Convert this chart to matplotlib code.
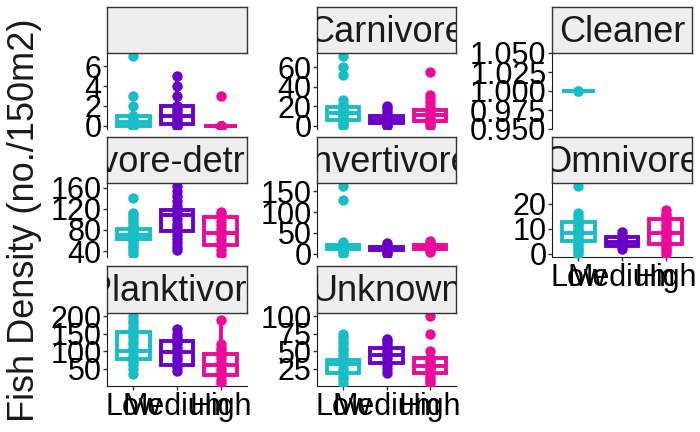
import numpy as np
import matplotlib
matplotlib.use("Agg")
import matplotlib.pyplot as plt

plt.rcParams['font.family'] = ['Liberation Sans', 'DejaVu Sans']

groups = ["Low", "Medium", "High"]
colors = ["#19BDC6", "#6A00C8", "#EC0A9A"]

# box stats per group: [whislo, q1, med, q3, whishi]
blank_box = [[0, 0, 0.33, 1, 2], [0, 0.2, 1, 2, 5], [0, 0, 0, 0, 0]]
blank_pts = [[0, 0, 0, 0, 0, 0.33, 0.33, 0.67, 1, 1, 2, 3, 7],
             [0, 0, 0.33, 0.67, 1, 1, 1.33, 1.67, 2, 2, 3, 4, 5],
             [0, 0, 0, 0, 0, 0, 0, 0, 3]]

carn_box = [[0, 6, 13, 19, 26], [0, 3, 6, 10, 20], [0, 5, 11, 16, 31]]
carn_pts = [[0, 2, 4, 6, 8, 10, 12, 14, 16, 18, 20, 22, 26, 52, 60, 71],
            [0, 1, 2, 3, 5, 6, 7, 8, 10, 12, 15, 18, 20],
            [0, 2, 4, 5, 8, 11, 13, 16, 20, 24, 28, 31, 55]]

clean_box = [[1, 1, 1, 1, 1]]
clean_pts = [[1, 1]]

herb_box = [[35, 62, 70, 81, 113], [42, 78, 108, 118, 163], [35, 52, 75, 104, 115]]
herb_pts = [[35, 40, 45, 50, 55, 60, 62, 65, 68, 70, 72, 75, 78, 80, 85, 90, 95, 100, 105, 110, 113, 140],
            [42, 48, 55, 62, 70, 78, 85, 92, 100, 108, 112, 118, 125, 135, 145, 155, 163],
            [35, 42, 50, 55, 62, 70, 75, 82, 90, 98, 104, 110, 115]]

inv_box = [[0, 10, 15, 20, 28], [0, 8, 12, 16, 25], [5, 12, 17, 22, 30]]
inv_pts = [[0, 3, 6, 9, 12, 15, 18, 21, 25, 28, 130, 162],
           [0, 3, 6, 9, 11, 13, 15, 18, 22, 25],
           [5, 8, 11, 14, 17, 20, 23, 26, 30]]

omni_box = [[0, 5, 8.4, 12.5, 16.5], [2, 3, 4.5, 6.5, 8.5], [0, 3.7, 8.4, 13.9, 17.5]]
omni_pts = [[0, 1, 2, 3, 4, 5, 6, 7, 8, 9, 10, 11, 12, 13, 14, 15, 16.5, 27],
            [2, 3, 3.5, 4, 4.5, 5, 5.5, 6, 7, 8.5],
            [0, 1, 2, 3, 4, 5, 6, 7, 8, 9, 10, 11, 12, 13, 14, 15, 16, 17.5]]

plank_box = [[35, 78, 102, 156, 200], [45, 62, 99, 131, 165], [11, 34, 62, 94, 190]]
plank_pts = [[35, 50, 60, 70, 80, 90, 100, 105, 110, 120, 130, 140, 150, 160, 170, 180, 190, 200],
             [45, 55, 62, 75, 85, 95, 100, 110, 120, 130, 140, 150, 165],
             [11, 20, 30, 40, 50, 60, 70, 80, 90, 100, 110, 120, 190]]

unk_box = [[5, 19, 32, 38, 75], [19, 33, 45, 55, 68], [5, 19, 29, 40, 50]]
unk_pts = [[5, 10, 15, 20, 25, 30, 35, 40, 45, 50, 55, 60, 65, 70, 75],
           [19, 25, 30, 35, 40, 45, 50, 55, 60, 64, 68],
           [5, 8, 12, 16, 20, 24, 28, 32, 36, 40, 50, 75, 100]]

panel_names = ["", "Carnivore", "Cleaner", "Herbivore-detritivore", "Invertivore",
               "Omnivore", "Planktivore", "Unknown"]
panel_boxes = [blank_box, carn_box, clean_box, herb_box, inv_box, omni_box, plank_box, unk_box]
panel_pts = [blank_pts, carn_pts, clean_pts, herb_pts, inv_pts, omni_pts, plank_pts, unk_pts]
panel_ticks = [[0, 2, 4, 6], [0, 20, 40, 60], [0.95, 0.975, 1.0, 1.025, 1.05],
               [40, 80, 120, 160], [0, 50, 100, 150], [0, 10, 20],
               [50, 100, 150, 200], [25, 50, 75, 100]]
panel_labels = [None, None, ["0.950", "1.025", "1.000", "0.975", "1.050"][::-1][::-1], None, None,
                None, None, None]
panel_labels[2] = ["0.950", "0.975", "1.000", "1.025", "1.050"]

W, H = 700, 432
fig = plt.figure(figsize=(7, 4.32), dpi=100)

col_x = [(107, 247), (317, 456), (552, 692)]
row_y = [(7, 53, 129), (137, 183, 257), (266, 313, 386)]
with_xaxis = [5, 6, 7]


def frac(x0, x1, y0, y1):
    return [x0 / W, 1 - y1 / H, (x1 - x0) / W, (y1 - y0) / H]


for i, name in enumerate(panel_names):
    r, c = divmod(i, 3)
    x0, x1 = col_x[c]
    s0, s1, p1 = row_y[r]

    ax = fig.add_axes(frac(x0, x1, s1, p1))
    sax = fig.add_axes(frac(x0, x1, s0, s1))

    # strip
    sax.set_facecolor("#EEEEEE")
    sax.set_xticks([])
    sax.set_yticks([])
    for sp in sax.spines.values():
        sp.set_color("#333333")
        sp.set_linewidth(1.0)
    sax.text(0.5, 0.45, name, transform=sax.transAxes, ha="center", va="center",
             fontsize=26, color="#1A1A1A", clip_on=True)

    boxes = panel_boxes[i]
    pts = panel_pts[i]
    for g, (b, p) in enumerate(zip(boxes, pts)):
        pos = g + 1
        st = dict(whislo=b[0], q1=b[1], med=b[2], q3=b[3], whishi=b[4])
        bp = ax.bxp([st], positions=[pos], widths=0.75, showcaps=False,
                    showfliers=False, patch_artist=True)
        for patch in bp["boxes"]:
            patch.set_facecolor("white")
            patch.set_edgecolor(colors[g])
            patch.set_linewidth(2.8)
            patch.set_zorder(2)
        for wl in bp["whiskers"]:
            wl.set_color(colors[g])
            wl.set_linewidth(2.8)
            wl.set_zorder(1.5)
        for md in bp["medians"]:
            md.set_color(colors[g])
            md.set_linewidth(2.8)
            md.set_zorder(4)
        ax.plot(np.full(len(p), pos), p, "o", color=colors[g], ms=7.5, mec="none", zorder=3)

    ax.set_xlim(0.4, 3.6)
    if name == "Cleaner":
        ax.set_ylim(0.95, 1.05)
    else:
        ax.margins(y=0.05)
    ax.set_yticks(panel_ticks[i])
    if panel_labels[i] is not None:
        ax.set_yticklabels(panel_labels[i])
    ax.tick_params(axis="y", labelsize=22, length=3, width=1, color="#333333", pad=1)
    ax.spines["top"].set_visible(False)
    ax.spines["right"].set_visible(False)
    ax.spines["left"].set_color("#1A1A1A")
    if i in with_xaxis:
        ax.set_xticks([1, 2, 3])
        ax.set_xticklabels(groups)
        ax.tick_params(axis="x", labelsize=22, length=3, width=1, color="#333333", pad=1)
        ax.spines["bottom"].set_color("#1A1A1A")
    else:
        ax.set_xticks([])
        ax.spines["bottom"].set_visible(False)

fig.text(25 / W, 1 - 220 / H, "Fish Density (no./150m2)", rotation=90, ha="center",
         va="center", fontsize=26, color="#1A1A1A")

fig.savefig("out.png", dpi=100)
